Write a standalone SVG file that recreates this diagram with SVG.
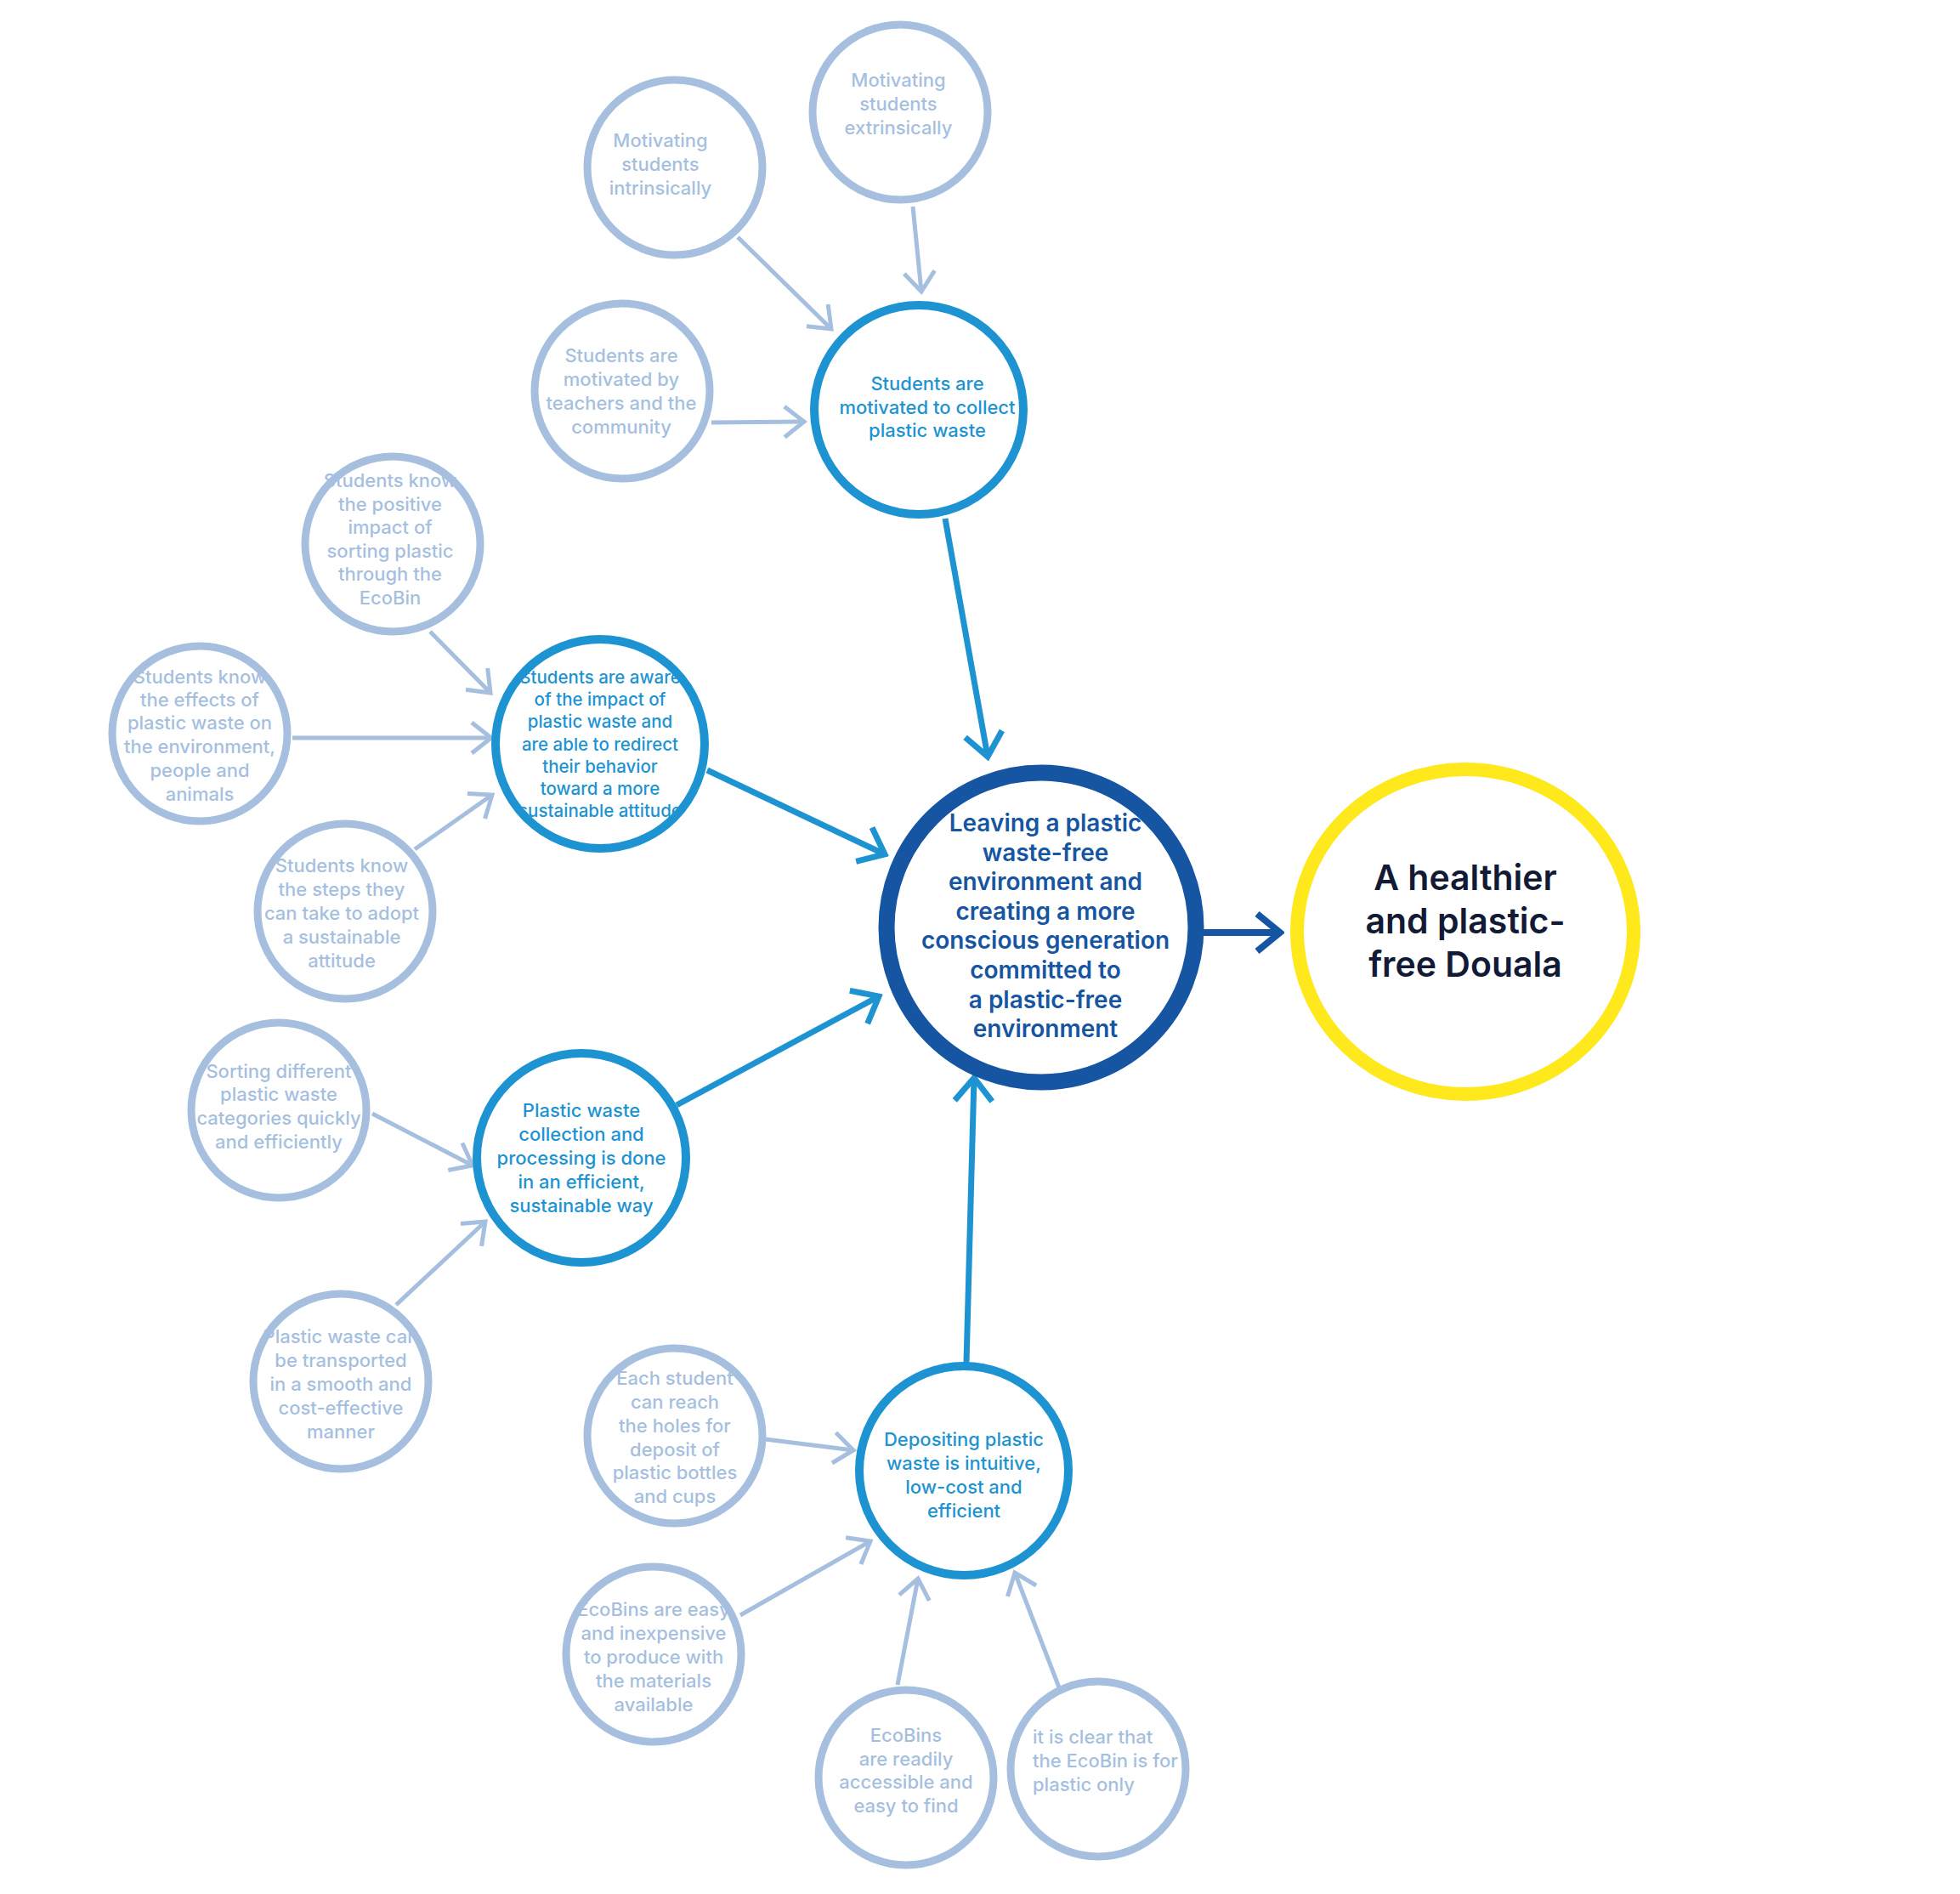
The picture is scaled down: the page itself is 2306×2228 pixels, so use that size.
<svg xmlns="http://www.w3.org/2000/svg" width="2306" height="2228" viewBox="0 0 2306 2228">
<style>
.bg{fill:#ffffff}
.lc{fill:#ffffff;stroke:#a6bfdf;stroke-width:9}
.mc{fill:#ffffff;stroke:#1d93d2;stroke-width:10}
.dc{fill:#ffffff;stroke:#1555a2;stroke-width:19}
.yc{fill:#ffffff;stroke:#ffe81c;stroke-width:16}
.lt{font-family:Inter,Roboto,"Liberation Sans",sans-serif;font-size:22px;font-weight:500;fill:#a6bfdf;text-anchor:middle;dominant-baseline:central}
.mt{font-family:Inter,Roboto,"Liberation Sans",sans-serif;font-size:22px;font-weight:500;fill:#1d93d2;text-anchor:middle;dominant-baseline:central}
.dt{font-family:Inter,Roboto,"Liberation Sans",sans-serif;font-size:28px;font-weight:600;fill:#1555a2;text-anchor:middle;dominant-baseline:central}
.yt{font-family:Inter,Roboto,"Liberation Sans",sans-serif;font-size:41px;font-weight:600;fill:#121a35;text-anchor:middle;dominant-baseline:central}
.ll{stroke:#a6bfdf;stroke-width:5;fill:none;marker-end:url(#al)}
.ml{stroke:#1d93d2;stroke-width:7;fill:none;marker-end:url(#am)}
.dl{stroke:#1555a2;stroke-width:8;fill:none;marker-end:url(#ad)}
</style>
<defs>
<marker id="al" markerUnits="userSpaceOnUse" viewBox="0 0 30 42" markerWidth="30" markerHeight="42" refX="26" refY="21" orient="auto">
<path d="M3,3 L26,21 L3,39" fill="none" stroke="#a6bfdf" stroke-width="5"/>
</marker>
<marker id="am" markerUnits="userSpaceOnUse" viewBox="0 0 36 52" markerWidth="36" markerHeight="52" refX="31" refY="26" orient="auto">
<path d="M4,4 L31,26 L4,48" fill="none" stroke="#1d93d2" stroke-width="7"/>
</marker>
<marker id="ad" markerUnits="userSpaceOnUse" viewBox="0 0 36 52" markerWidth="36" markerHeight="52" refX="31" refY="26" orient="auto">
<path d="M4,4 L31,26 L4,48" fill="none" stroke="#1555a2" stroke-width="8"/>
</marker>
</defs>
<rect class="bg" x="0" y="0" width="2306" height="2228"/>
<g id="connectors">
<line class="ll" x1="1074" y1="243" x2="1084" y2="343"/>
<line class="ll" x1="868" y1="279" x2="978" y2="387"/>
<line class="ll" x1="837" y1="497" x2="946" y2="496"/>
<line class="ml" x1="1112" y1="610" x2="1162" y2="890"/>
<line class="ll" x1="506" y1="743" x2="577" y2="815"/>
<line class="ll" x1="344" y1="868" x2="578" y2="868"/>
<line class="ll" x1="488" y1="999" x2="579" y2="935"/>
<line class="ml" x1="832" y1="906" x2="1041" y2="1005"/>
<line class="ml" x1="796" y1="1300" x2="1034" y2="1172"/>
<line class="ll" x1="438" y1="1310" x2="556" y2="1371"/>
<line class="ll" x1="466" y1="1535" x2="571" y2="1437"/>
<line class="ml" x1="1137" y1="1603" x2="1146" y2="1268"/>
<line class="ll" x1="900" y1="1693" x2="1004" y2="1706"/>
<line class="ll" x1="871" y1="1900" x2="1024" y2="1813"/>
<line class="ll" x1="1056" y1="1982" x2="1080" y2="1857"/>
<line class="ll" x1="1246" y1="1985" x2="1194" y2="1850"/>
<line class="dl" x1="1416" y1="1097" x2="1506" y2="1097"/>
</g>
<g id="n-extrinsic"><circle class="lc" cx="1059" cy="132" r="103"/>
<text class="lt"><tspan x="1057" y="94">Motivating</tspan><tspan x="1057" y="122">students</tspan><tspan x="1057" y="150">extrinsically</tspan></text></g>
<g id="n-intrinsic"><circle class="lc" cx="794" cy="197" r="103"/>
<text class="lt"><tspan x="777" y="165">Motivating</tspan><tspan x="777" y="193">students</tspan><tspan x="777" y="221">intrinsically</tspan></text></g>
<g id="n-teachers"><circle class="lc" cx="732" cy="460" r="103"/>
<text class="lt"><tspan x="731" y="418">Students are</tspan><tspan x="731" y="446">motivated by</tspan><tspan x="731" y="474">teachers and the</tspan><tspan x="731" y="502">community</tspan></text></g>
<g id="n-collect"><circle class="mc" cx="1081" cy="482" r="123"/>
<text class="mt"><tspan x="1091" y="451">Students are</tspan><tspan x="1091" y="479">motivated to collect</tspan><tspan x="1091" y="506">plastic waste</tspan></text></g>
<g id="n-positive"><circle class="lc" cx="462" cy="640" r="103"/>
<text class="lt"><tspan x="459" y="565">Students know</tspan><tspan x="459" y="593">the positive</tspan><tspan x="459" y="620">impact of</tspan><tspan x="459" y="648">sorting plastic</tspan><tspan x="459" y="675">through the</tspan><tspan x="459" y="703">EcoBin</tspan></text></g>
<g id="n-effects"><circle class="lc" cx="235" cy="863" r="103"/>
<text class="lt"><tspan x="235" y="796">Students know</tspan><tspan x="235" y="823">the effects of</tspan><tspan x="235" y="850">plastic waste on</tspan><tspan x="235" y="878">the environment,</tspan><tspan x="235" y="906">people and</tspan><tspan x="235" y="934">animals</tspan></text></g>
<g id="n-aware"><circle class="mc" cx="706" cy="875" r="123"/>
<text class="mt" style="font-size:20.5px"><tspan x="706" y="796">Students are aware</tspan><tspan x="706" y="822">of the impact of</tspan><tspan x="706" y="848">plastic waste and</tspan><tspan x="706" y="875">are able to redirect</tspan><tspan x="706" y="901">their behavior</tspan><tspan x="706" y="927">toward a more</tspan><tspan x="706" y="953">sustainable attitude</tspan></text></g>
<g id="n-steps"><circle class="lc" cx="406" cy="1072" r="103"/>
<text class="lt"><tspan x="402" y="1018">Students know</tspan><tspan x="402" y="1046">the steps they</tspan><tspan x="402" y="1074">can take to adopt</tspan><tspan x="402" y="1102">a sustainable</tspan><tspan x="402" y="1130">attitude</tspan></text></g>
<g id="n-main"><circle class="dc" cx="1225" cy="1091" r="182"/>
<text class="dt"><tspan x="1230" y="968">Leaving a plastic</tspan><tspan x="1230" y="1003">waste-free</tspan><tspan x="1230" y="1037">environment and</tspan><tspan x="1230" y="1072">creating a more</tspan><tspan x="1230" y="1106">conscious generation</tspan><tspan x="1230" y="1141">committed to</tspan><tspan x="1230" y="1176">a plastic-free</tspan><tspan x="1230" y="1210">environment</tspan></text></g>
<g id="n-douala"><ellipse class="yc" cx="1724" cy="1096" rx="198" ry="191"/>
<text class="yt"><tspan x="1724" y="1032">A healthier</tspan><tspan x="1724" y="1083">and plastic-</tspan><tspan x="1724" y="1134">free Douala</tspan></text></g>
<g id="n-sorting"><circle class="lc" cx="328" cy="1306" r="103"/>
<text class="lt"><tspan x="328" y="1260">Sorting different</tspan><tspan x="328" y="1287">plastic waste</tspan><tspan x="328" y="1315">categories quickly</tspan><tspan x="328" y="1343">and efficiently</tspan></text></g>
<g id="n-collection"><circle class="mc" cx="684" cy="1362" r="123"/>
<text class="mt"><tspan x="684" y="1306">Plastic waste</tspan><tspan x="684" y="1334">collection and</tspan><tspan x="684" y="1362">processing is done</tspan><tspan x="684" y="1390">in an efficient,</tspan><tspan x="684" y="1418">sustainable way</tspan></text></g>
<g id="n-transport"><circle class="lc" cx="401" cy="1625" r="103"/>
<text class="lt"><tspan x="401" y="1572">Plastic waste can</tspan><tspan x="401" y="1600">be transported</tspan><tspan x="401" y="1628">in a smooth and</tspan><tspan x="401" y="1656">cost-effective</tspan><tspan x="401" y="1684">manner</tspan></text></g>
<g id="n-each"><circle class="lc" cx="794" cy="1689" r="103"/>
<text class="lt"><tspan x="794" y="1621">Each student</tspan><tspan x="794" y="1649">can reach</tspan><tspan x="794" y="1677">the holes for</tspan><tspan x="794" y="1705">deposit of</tspan><tspan x="794" y="1732">plastic bottles</tspan><tspan x="794" y="1760">and cups</tspan></text></g>
<g id="n-depositing"><circle class="mc" cx="1134" cy="1730" r="123"/>
<text class="mt"><tspan x="1134" y="1693">Depositing plastic</tspan><tspan x="1134" y="1721">waste is intuitive,</tspan><tspan x="1134" y="1749">low-cost and</tspan><tspan x="1134" y="1777">efficient</tspan></text></g>
<g id="n-easy"><circle class="lc" cx="769" cy="1946" r="103"/>
<text class="lt"><tspan x="769" y="1893">EcoBins are easy</tspan><tspan x="769" y="1921">and inexpensive</tspan><tspan x="769" y="1949">to produce with</tspan><tspan x="769" y="1977">the materials</tspan><tspan x="769" y="2005">available</tspan></text></g>
<g id="n-readily"><circle class="lc" cx="1066" cy="2091" r="103"/>
<text class="lt"><tspan x="1066" y="2041">EcoBins</tspan><tspan x="1066" y="2069">are readily</tspan><tspan x="1066" y="2096">accessible and</tspan><tspan x="1066" y="2124">easy to find</tspan></text></g>
<g id="n-clear"><circle class="lc" cx="1292" cy="2081" r="103"/>
<text class="lt" style="text-anchor:start"><tspan x="1215" y="2043">it is clear that</tspan><tspan x="1215" y="2071">the EcoBin is for</tspan><tspan x="1215" y="2099">plastic only</tspan></text></g>
</svg>
